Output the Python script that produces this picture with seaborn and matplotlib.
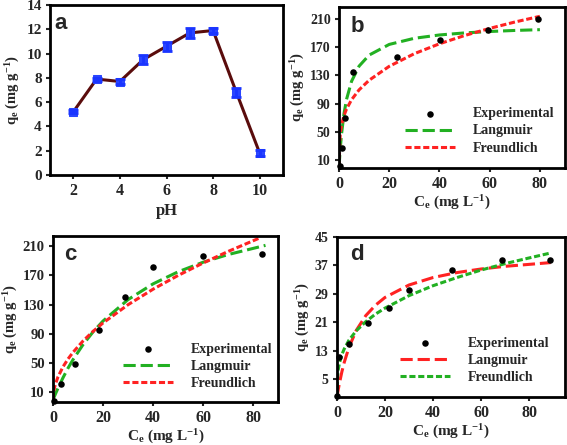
import matplotlib
matplotlib.use("Agg")
import matplotlib.pyplot as plt
import seaborn as sns
import pandas as pd

# panel a: pH effect
ph = [2, 3, 4, 5, 6, 7, 8, 9, 10]
qe_ph = [5.2, 7.9, 7.7, 9.5, 10.6, 11.7, 11.9, 6.8, 1.8]
err_ph = [0.12, 0.12, 0.18, 0.35, 0.35, 0.4, 0.18, 0.35, 0.25]

# panel b
ce_b = [0.2, 1.3, 2.3, 5.6, 23.2, 40.4, 59.5, 79.3]
qe_b = [2, 28, 70, 135, 156, 180, 195, 210]
fit_c_b = [0, 0.5, 1, 2, 3, 5, 8, 12, 20, 30, 40, 50, 60, 70, 80]
lang_b = [0, 26.5, 46.8, 76.1, 96.2, 121.8, 143.3, 158.9, 174.0, 182.7, 187.4, 190.3, 192.3, 193.8, 194.9]
freu_b = [0, 49.1, 60.0, 73.4, 82.5, 95.7, 109.7, 123.3, 143.0, 160.9, 174.9, 186.6, 196.7, 205.7, 213.8]

# panel c
ce_c = [0.2, 3.1, 8.7, 18.3, 28.7, 40.1, 59.9, 83.7]
qe_c = [-1, 21, 49, 96, 141, 182, 197, 200]
lang_c_x = [0, 1, 2, 4, 6, 8, 12, 16, 20, 30, 40, 50, 60, 70, 85]
lang_c = [0, 8.2, 15.9, 30.2, 43.2, 54.9, 75.4, 92.8, 107.7, 137.0, 158.5, 175.0, 188.1, 198.6, 211.2]
freu_c_x = [0, 0.2, 0.5, 1, 2, 4, 6, 8, 12, 16, 20, 30, 40, 50, 60, 70, 83]
freu_c = [0, 9.4, 15.2, 21.8, 31.4, 45.1, 55.8, 64.9, 80.4, 93.5, 105.1, 130.0, 151.2, 170.0, 187.0, 202.8, 221.8]

# panel d
ce_d = [0.1, 1.0, 5.1, 13.1, 21.8, 30.1, 47.9, 68.9, 88.8]
qe_d = [0.3, 11.3, 14.9, 20.9, 25.1, 30.1, 35.8, 38.4, 38.4]
fit_c_d = [0, 0.2, 0.5, 1, 2, 3, 5, 8, 12, 16, 20, 30, 40, 50, 60, 70, 80, 89]
lang_d = [0, 0.82, 2.0, 3.8, 7.0, 9.7, 14.0, 18.7, 22.9, 25.8, 28.0, 31.5, 33.6, 35.0, 36.0, 36.75, 37.3, 37.8]
freu_d = [0, 5.6, 7.6, 9.5, 11.9, 13.5, 16.0, 18.6, 21.2, 23.3, 25.0, 28.5, 31.3, 33.6, 35.7, 37.5, 39.1, 40.5]

sns.set_style("ticks")
plt.rcParams["font.family"] = ["Liberation Serif", "DejaVu Serif"]
plt.rcParams["font.weight"] = "bold"
plt.rcParams["mathtext.fontset"] = "custom"
plt.rcParams["mathtext.rm"] = "Liberation Serif:bold"
plt.rcParams["mathtext.it"] = "Liberation Serif:bold"
plt.rcParams["mathtext.bf"] = "Liberation Serif:bold"
plt.rcParams["mathtext.default"] = "rm"

GREEN = "#22b022"
RED = "#ff2222"
W, H = 567, 445

fig = plt.figure(figsize=(5.67, 4.45), dpi=100)


def box(l, r, t, b):
    return fig.add_axes([l / W, (H - b) / H, (r - l) / W, (b - t) / H])


def style(ax, xs, ys):
    for s in ax.spines.values():
        s.set_linewidth(2.0)
        s.set_color("black")
        s.set_visible(True)
    ax.tick_params(direction="out", length=3, width=1.5, pad=3,
                   top=False, right=False)
    ax.tick_params(axis="x", labelsize=xs)
    ax.tick_params(axis="y", labelsize=ys)
    for lab in ax.get_xticklabels() + ax.get_yticklabels():
        lab.set_fontweight("bold")


ylab = "q$_\\mathrm{e}$ (mg g$^{\\mathrm{-1}}$)"
xlab = "C$_\\mathrm{e}$ (mg L$^{\\mathrm{-1}}$)"

# ---- a ----
ax = box(50, 283, 5, 175)
dfa = pd.DataFrame({"pH": ph, "qe": qe_ph})
ax.errorbar(ph, qe_ph, yerr=err_ph, fmt="none", ecolor="#1a35ff", elinewidth=2,
            capsize=3.5, capthick=2, zorder=3)
sns.lineplot(data=dfa, x="pH", y="qe", ax=ax, color="#5a0c0c", linewidth=2.2,
             marker="s", markersize=5.5, markerfacecolor="#2a45ff",
             markeredgecolor="#2a45ff", zorder=2)
ax.set_xlim(1, 11)
ax.set_ylim(0, 14)
ax.set_xticks([2, 4, 6, 8, 10])
ax.set_yticks(range(0, 15, 2))
ax.set_xlabel("pH", fontsize=12, fontweight="bold", labelpad=3)
ax.set_ylabel(ylab, fontsize=10.5, fontweight="bold", labelpad=3)
ax.text(0.02, 0.89, "a", transform=ax.transAxes, fontsize=16, fontweight="bold",
        family="Liberation Sans", va="center")
style(ax, 11.5, 11)


def iso(ax, cx, qx, lx, ly, fx, fy, lcol, fcol, xlim, ylim, yt, letter, lpos,
        leg_anchor, ysz):
    sns.scatterplot(x=cx, y=qx, ax=ax, color="black", s=22, edgecolor="black",
                    linewidth=0, zorder=4, label="Experimental", clip_on=False)
    sns.lineplot(x=lx, y=ly, ax=ax, color=lcol, linewidth=2.2,
                 label="Langmuir", sort=False).lines[-1].set_dashes((4, 1.6))
    sns.lineplot(x=fx, y=fy, ax=ax, color=fcol, linewidth=2.2,
                 label="Freundlich", sort=False).lines[-1].set_dashes((2, 0.9))
    ax.set_xlim(*xlim)
    ax.set_ylim(*ylim)
    ax.set_xticks([0, 20, 40, 60, 80])
    ax.set_yticks(yt)
    ax.set_xlabel(xlab, fontsize=11, fontweight="bold", labelpad=1)
    ax.set_ylabel(ylab, fontsize=10.5, fontweight="bold", labelpad=2)
    ax.text(lpos[0], lpos[1], letter, transform=ax.transAxes, fontsize=16,
            fontweight="bold", family="Liberation Sans", va="center")
    ax.legend(loc="upper left", bbox_to_anchor=leg_anchor, frameon=False,
              borderpad=0, handlelength=3.6, handletextpad=1.3,
              labelspacing=0.3, prop={"family": "Liberation Serif",
                                      "weight": "bold", "size": 10})
    style(ax, 11.5, ysz)


ax = box(339, 565, 7, 168)
iso(ax, ce_b, qe_b, fit_c_b, lang_b, fit_c_b, freu_b, GREEN, RED,
    (0, 90), (-1, 227), range(10, 211, 40), "b", (0.05, 0.88), (0.26, 0.42), 10)

ax = box(53, 278, 236, 402)
iso(ax, ce_c, qe_c, lang_c_x, lang_c, freu_c_x, freu_c, GREEN, RED,
    (0, 90), (-3, 224), range(10, 211, 40), "c", (0.05, 0.89), (0.28, 0.40), 10.5)

ax = box(337, 565, 237, 397)
iso(ax, ce_d, qe_d, fit_c_d, lang_d, fit_c_d, freu_d, RED, GREEN,
    (0, 95), (0, 45), range(5, 46, 8), "d", (0.057, 0.89), (0.245, 0.42), 10)

fig.savefig("out.png", dpi=100)
